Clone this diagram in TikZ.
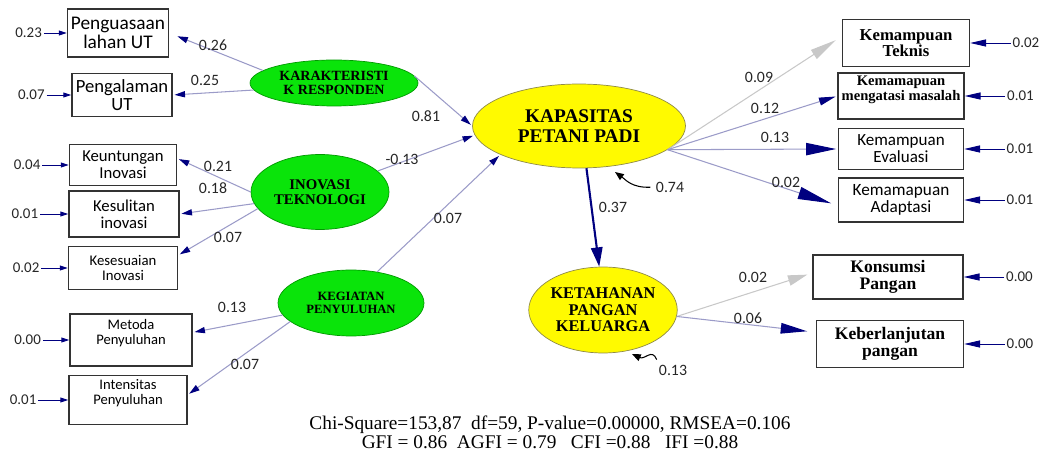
\documentclass[tikz,border=0pt]{standalone}
\usepackage{fontspec}
\setmainfont{Liberation Serif}
\newfontfamily\calibri{Carlito}
\usetikzlibrary{shapes.geometric,arrows.meta,positioning}
\definecolor{navyb}{RGB}{0,0,128}
\definecolor{pathc}{RGB}{155,155,200}
\definecolor{grayc}{RGB}{200,200,200}
\definecolor{latg}{RGB}{10,228,10}
\definecolor{laty}{RGB}{255,250,0}

\begin{document}
\begin{tikzpicture}[x=0.02cm,y=-0.02cm,
  obs/.style={draw=black!80,line width=.8pt,align=center,inner sep=1pt},
  sans/.style={font=\calibri\fontsize{#1}{#1}\selectfont},
  serb/.style={font=\bfseries\fontsize{#1}{#1}\selectfont},
  lat/.style={ellipse,draw=green!60!black,fill=latg,inner sep=0pt,align=center},
  endo/.style={ellipse,draw=yellow!50!black,fill=laty,inner sep=0pt,align=center},
  path/.style={draw=pathc,line width=.6pt,shorten >=1pt,
    -{Triangle[length=6pt,width=3.5pt,color=navyb]}},
  gpath/.style={draw=grayc,line width=.6pt,-{Triangle[length=#1,width=6pt]}},
  err/.style={draw=navyb,line width=.5pt,-{Triangle[length=4.5pt,width=2.8pt]}},
  errr/.style={draw=navyb,line width=.5pt,-{Triangle[length=9pt,width=4pt]}},
  elab/.style={font=\calibri\fontsize{8.5}{8.5}\selectfont,inner sep=1pt,text=black!85},
  coef/.style={font=\calibri\fontsize{9}{9}\selectfont,inner sep=0pt,text=black!85},
  res/.style={draw=black,line width=.6pt,shorten <=3pt,-{Triangle[length=5pt,width=4pt]}}]
\useasboundingbox (0,0) rectangle (1040,455);

\node[obs,sans=11,minimum width=2.02cm,minimum height=.96cm] (B1) at (118,33) {Penguasaan\\lahan UT};
\node[obs,sans=10.6,minimum width=2cm,minimum height=.86cm] (B2) at (122,95) {Pengalaman\\UT};
\node[obs,sans=9.5,minimum width=2.14cm,minimum height=.82cm] (B3) at (123,165) {Keuntungan\\Inovasi};
\node[obs,sans=9.5,minimum width=2.2cm,minimum height=.92cm] (B4) at (124,214) {Kesulitan\\inovasi};
\node[obs,sans=8.4,minimum width=2.18cm,minimum height=.86cm] (B5) at (123,268) {Kesesuaian\\Inovasi};
\node[obs,sans=8.3,minimum width=2.44cm,minimum height=1.04cm,text depth=9pt] (B6) at (131,340) {Metoda\\Penyuluhan};
\node[obs,sans=8.3,minimum width=2.36cm,minimum height=.98cm,text depth=9pt] (B7) at (128,400) {Intensitas\\Penyuluhan};

\node[obs,serb=9.5,minimum width=2.54cm,minimum height=.94cm] (R1) at (906,43) {Kemampuan\\Teknis};
\node[obs,serb=8.3,minimum width=2.52cm,minimum height=.92cm,text depth=9pt] (R2) at (901,96) {Kemamapuan\\mengatasi masalah};
\node[obs,sans=9.7,minimum width=2.5cm,minimum height=.82cm] (R3) at (901,149) {Kemampuan\\Evaluasi};
\node[obs,sans=9.8,minimum width=2.5cm,minimum height=.88cm] (R4) at (901,200) {Kemamapuan\\Adaptasi};
\node[obs,serb=10,minimum width=3cm,minimum height=.88cm] (R5) at (888,277) {Konsumsi\\Pangan};
\node[obs,serb=10,minimum width=2.94cm,minimum height=.94cm] (R6) at (890,344) {Keberlanjutan\\pangan};

\node[lat,serb=8,minimum width=3.36cm,minimum height=.92cm] (KR) at (334,83) {KARAKTERISTI\\K RESPONDEN};
\node[lat,serb=8.4,minimum width=2.76cm,minimum height=1.5cm] (IT) at (320,192) {INOVASI\\TEKNOLOGI};
\node[lat,serb=7.2,minimum width=2.92cm,minimum height=1.32cm] (KP) at (351,303) {KEGIATAN\\PENYULUHAN};
\node[endo,serb=11,minimum width=4.26cm,minimum height=1.68cm] (KAP) at (579,126) {KAPASITAS\\PETANI PADI};
\node[endo,serb=9.3,minimum width=2.94cm,minimum height=1.72cm] (KET) at (603,310) {KETAHANAN\\PANGAN\\KELUARGA};

\draw[path,shorten >=5pt] (KR.170) -- (B1.east);
\draw[path] (KR.185) -- (B2.east);
\draw[path] (IT.180) -- (B3.7);
\draw[path] (IT.190) -- (B4.east);
\draw[path] (IT.195) -- (B5.13);
\draw[path] (KP.190) -- (B6.7);
\draw[path] (KP.197) -- (B7.5);
\draw[path] (KR.5) -- (KAP.180);
\draw[path] (IT.20) -- (KAP.185);
\draw[path] (KP.50) -- (KAP.200);

\draw[gpath=15pt,shorten >=4pt] (KAP.-15) -- (R1.174);
\draw[path,-{Triangle[length=9.5pt,width=4.5pt,color=navyb]}] (KAP.-15) -- (R2.west);
\draw[path,-{Triangle[length=17pt,width=7pt,color=navyb]}] (KAP.-15) -- (R3.west);
\draw[path,shorten >=4pt,-{Triangle[length=19pt,width=7pt,color=navyb]}] (KAP.-15) -- (R4.185);
\draw[navyb,line width=1.2pt,-{Triangle[length=11pt,width=6.5pt]}] (KAP.-80) -- (KET.95);
\draw[gpath=11pt,shorten >=3pt] (KET.-5) -- (R5.177);
\draw[path,shorten >=5pt,-{Triangle[length=15pt,width=6pt,color=navyb]}] (KET.-5) -- (R6.171);

\foreach \b/\v/\d [count=\i] in {B1/0.23/13pt,B2/0.07/14pt,B3/0.04/15pt,B4/0.01/16pt,
    B5/0.02/15pt,B6/0.00/15pt,B7/0.01/17pt}
  \node[elab,left=\d of \b] (e\i) {\v};
\foreach \i in {1,...,7}
  \draw[err] (e\i) -- (B\i);

\foreach \v [count=\i] in {0.02,0.01,0.01,0.01,0.00,0.00}
  \node[elab,right=23pt of R\i] (f\i) {\v};
\foreach \i in {1,...,6}
  \draw[errr] (f\i) -- (R\i);

\foreach \p/\t [count=\i] in {{213,45}/0.26,{205,80}/0.25,{426,116}/0.81,{402,159}/-0.13,
    {218,166}/0.21,{213,188}/0.18,{228,237}/0.07,{448,218}/0.07,{232,307}/0.13,
    {245,364}/0.07,{759,77}/0.09,{765,108}/0.12,{775,137}/0.13,{786,182}/0.02,
    {613,207}/0.37,{753,277}/0.02,{748,318}/0.06}
  \node[coef] (c\i) at (\p) {\t};

\node[coef] (r1) at (670,187) {0.74};
\node[coef] (r2) at (673,370) {0.13};
\coordinate (t1) at (615,172);
\coordinate (t2) at (632,354);
\draw[res] (r1.west) .. controls (632,188) and (626,180) .. (t1);
\draw[res] (r2.north west) .. controls (652,348) and (645,360) .. (t2);

\node[align=center,font=\fontsize{11}{11}\selectfont] (fit) at (550,432)
  {Chi-Square=153,87\ \ df=59, P-value=0.00000, RMSEA=0.106\\
   GFI = 0.86\ \ AGFI = 0.79\ \ \ CFI =0.88\ \ \ IFI =0.88};
\end{tikzpicture}
\end{document}
